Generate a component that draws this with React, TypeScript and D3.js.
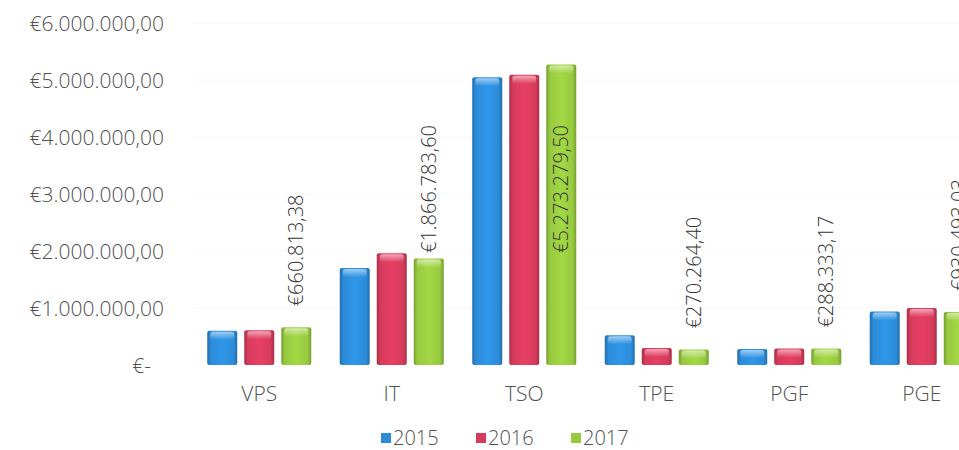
import React, { useRef, useEffect } from 'react';
import * as d3 from 'd3';

const categories = ['VPS', 'IT', 'TSO', 'TPE', 'PGF', 'PGE'];
const years = ['2015', '2016', '2017'];
const values2015 = [600000, 1700000, 5050000, 520000, 280000, 940000];
const values2016 = [610000, 1960000, 5090000, 300000, 290000, 1000000];
const values2017 = [660813.38, 1866783.6, 5273279.5, 270264.4, 288333.17, 930493.03];
const labels2017 = ['€660.813,38', '€1.866.783,60', '€5.273.279,50', '€270.264,40', '€288.333,17', '€930.493,03'];
const tickValues = [0, 1000000, 2000000, 3000000, 4000000, 5000000, 6000000];
const tickLabels = ['€-', '€1.000.000,00', '€2.000.000,00', '€3.000.000,00', '€4.000.000,00', '€5.000.000,00', '€6.000.000,00'];
const colors = ['#2c8cd9', '#d63b5c', '#97c93f'];

const FONT = "'Open Sans', 'DejaVu Sans', sans-serif";

const App = () => {
  const svgRef = useRef<SVGSVGElement>(null);

  useEffect(() => {
    const width = 959;
    const height = 450;
    const svg = d3.select(svgRef.current);
    svg.selectAll('*').remove();

    const series = [values2015, values2016, values2017];

    const x = d3.scaleBand().domain(categories).range([193, 988]).paddingInner(0).paddingOuter(0);
    const xInner = d3.scaleBand().domain(years).range([0, 104]).paddingInner(0.19);
    const y = d3.scaleLinear().domain([0, 6000000]).range([365, 23]);

    // gradients for the rounded 3D bar look
    const defs = svg.append('defs');
    colors.forEach((c, i) => {
      const g = defs.append('linearGradient').attr('id', `bar${i}`).attr('x1', '0').attr('x2', '1').attr('y1', '0').attr('y2', '0');
      const base = d3.color(c)!;
      g.append('stop').attr('offset', '0%').attr('stop-color', base.darker(0.7).toString());
      g.append('stop').attr('offset', '12%').attr('stop-color', base.toString());
      g.append('stop').attr('offset', '50%').attr('stop-color', base.brighter(0.2).toString());
      g.append('stop').attr('offset', '88%').attr('stop-color', base.toString());
      g.append('stop').attr('offset', '100%').attr('stop-color', base.darker(0.7).toString());
      const h = defs.append('linearGradient').attr('id', `cap${i}`).attr('x1', '0').attr('x2', '0').attr('y1', '0').attr('y2', '1');
      h.append('stop').attr('offset', '0%').attr('stop-color', '#fff').attr('stop-opacity', 0.55);
      h.append('stop').attr('offset', '100%').attr('stop-color', '#fff').attr('stop-opacity', 0);
    });

    svg.attr('width', width).attr('height', height);

    // very faint gridlines
    svg.append('g').selectAll('line').data(tickValues.slice(1)).enter().append('line')
      .attr('x1', 193).attr('x2', 959)
      .attr('y1', d => y(d)).attr('y2', d => y(d))
      .attr('stroke', '#f8f8f8').attr('stroke-width', 1);

    // y axis labels
    svg.append('g').selectAll('text').data(tickValues).enter().append('text')
      .attr('x', (d, i) => (i === 0 ? 151 : 164))
      .attr('y', d => y(d))
      .attr('dy', '0.36em')
      .attr('text-anchor', 'end')
      .style('font-family', FONT)
      .style('font-weight', 300)
      .style('font-size', '21px')
      .style('fill', '#505050')
      .text((d, i) => tickLabels[i]);

    // bars
    series.forEach((vals, si) => {
      const g = svg.append('g');
      const bx = (i: number) => x(categories[i])! + (x.bandwidth() - 104) / 2 + xInner(years[si])!;
      g.selectAll('rect.bar').data(vals).enter().append('rect')
        .attr('class', 'bar')
        .attr('x', (d, i) => bx(i))
        .attr('y', d => y(d))
        .attr('width', xInner.bandwidth())
        .attr('height', d => y(0) - y(d))
        .attr('rx', 2)
        .attr('fill', `url(#bar${si})`);
      g.selectAll('rect.cap').data(vals).enter().append('rect')
        .attr('class', 'cap')
        .attr('x', (d, i) => bx(i) + 3)
        .attr('y', d => y(d) + 1)
        .attr('width', xInner.bandwidth() - 6)
        .attr('height', d => Math.min(8, y(0) - y(d) - 2))
        .attr('rx', 3)
        .attr('fill', `url(#cap${si})`);
    });

    // 2017 value labels, rotated
    const labelG = svg.append('g');
    values2017.forEach((v, i) => {
      const cx = x(categories[i])! + (x.bandwidth() - 104) / 2 + xInner('2017')! + xInner.bandwidth() / 2;
      const t = labelG.append('text')
        .style('font-family', FONT)
        .style('font-weight', 300)
        .style('font-size', '20px')
        .style('fill', '#333')
        .attr('text-anchor', 'start')
        .attr('dy', '0.36em')
        .text(labels2017[i]);
      const len = (t.node() as SVGTextElement).getComputedTextLength();
      let start = y(v) - 21;
      if (start - len < 125) start = 125 + len;
      t.attr('transform', `translate(${cx},${start}) rotate(-90)`);
    });

    // category labels
    svg.append('g').selectAll('text').data(categories).enter().append('text')
      .attr('x', d => x(d)! + x.bandwidth() / 2)
      .attr('y', 401)
      .attr('text-anchor', 'middle')
      .style('font-family', FONT)
      .style('font-weight', 300)
      .style('font-size', '21px')
      .style('fill', '#505050')
      .text(d => d);

    // legend
    const legend = svg.append('g').selectAll('g').data(years).enter().append('g')
      .attr('transform', (d, i) => `translate(${381 + i * 95},433)`);
    legend.append('rect')
      .attr('width', 10).attr('height', 10)
      .attr('fill', (d, i) => colors[i]);
    legend.append('text')
      .attr('x', 12).attr('y', 5).attr('dy', '0.36em')
      .style('font-family', FONT)
      .style('font-weight', 300)
      .style('font-size', '20px')
      .style('fill', '#505050')
      .text(d => d);
  }, []);

  return (
    <div style={{ position: 'absolute', left: 0, top: 0, background: '#fff' }}>
      <svg ref={svgRef}></svg>
    </div>
  );
};

export default App;
